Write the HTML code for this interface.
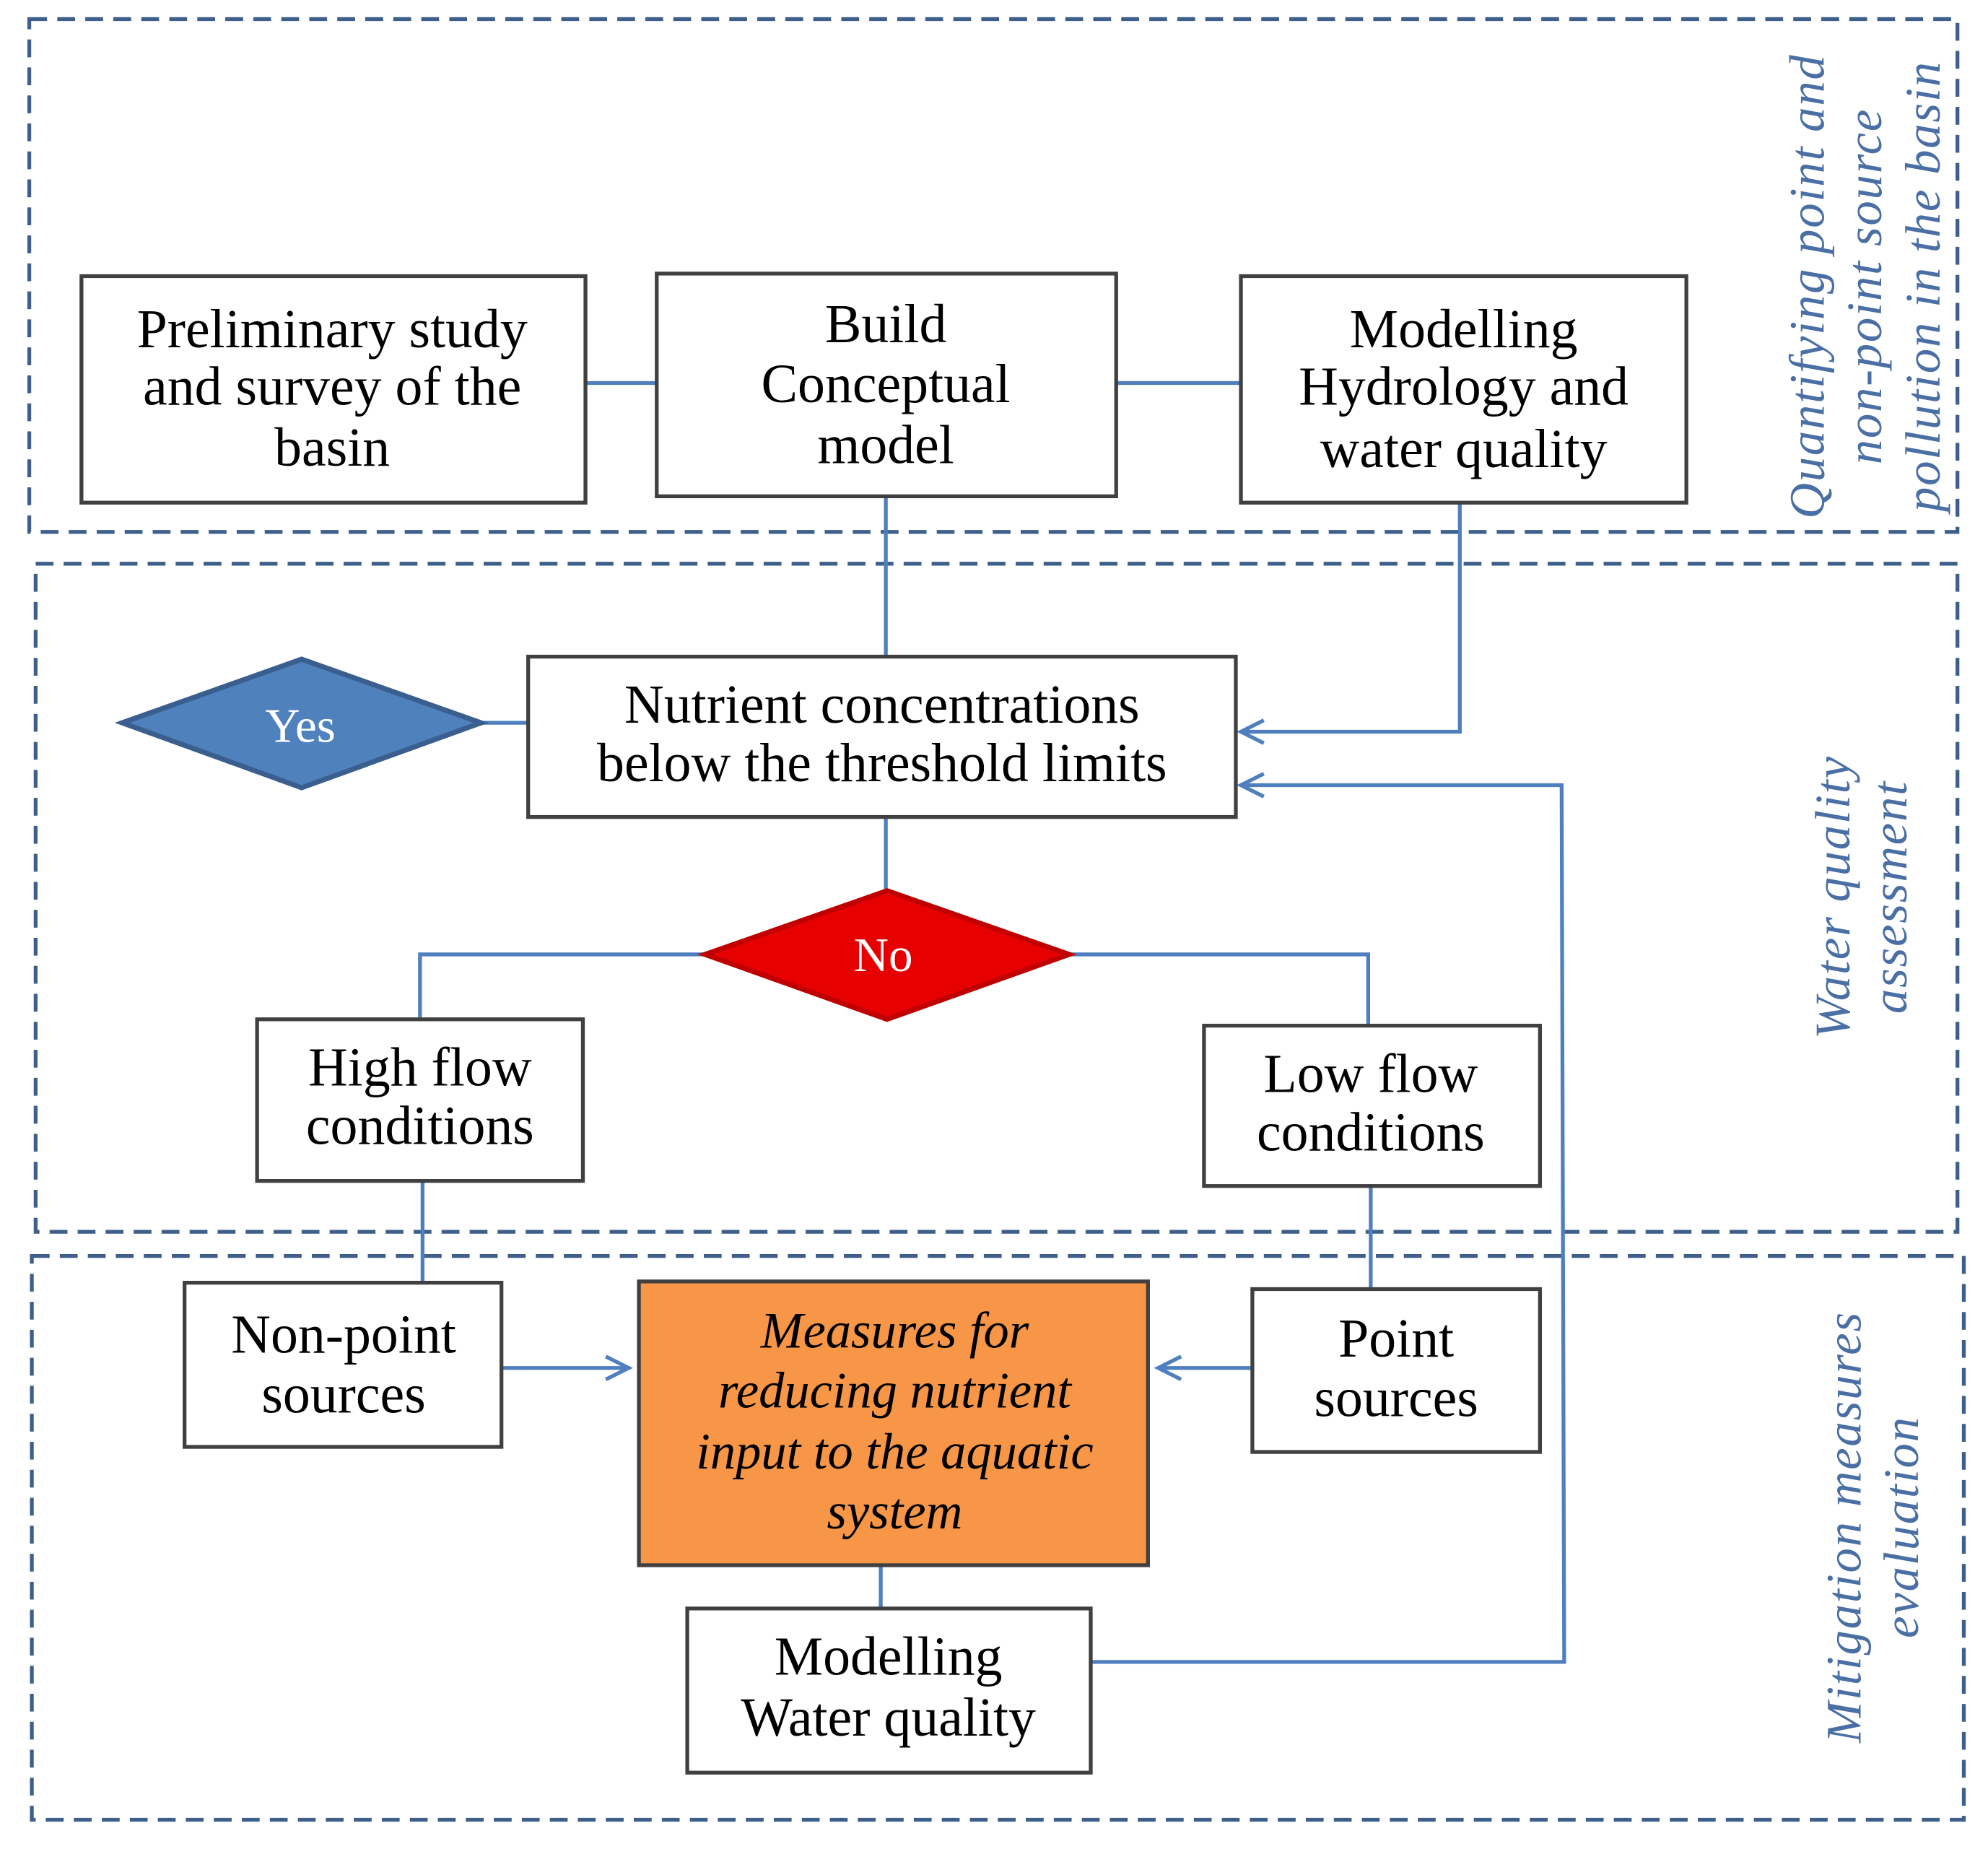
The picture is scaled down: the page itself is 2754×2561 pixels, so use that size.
<!DOCTYPE html>
<html><head><style>html,body{margin:0;padding:0;background:#fff}svg{display:block}</style></head><body>
<svg width="2754" height="2561" viewBox="0 0 1562 1453" preserveAspectRatio="none" xmlns="http://www.w3.org/2000/svg">
<defs><marker id="a" markerWidth="24" markerHeight="24" refX="20" refY="11" orient="auto" markerUnits="userSpaceOnUse"><path d="M2,2 L20,11 L2,20" fill="none" stroke="#4f7fbf" stroke-width="3"/></marker></defs>
<g fill="none" stroke="#3d5f8a" stroke-width="3" stroke-dasharray="14,8">
<rect x="23" y="15" width="1515" height="403"/>
<rect x="28" y="443" width="1510" height="525"/>
<rect x="25" y="987" width="1518" height="443"/>
</g>
<g fill="none" stroke="#4f7fbf" stroke-width="3">
<line x1="460" y1="301" x2="516" y2="301"/>
<line x1="877" y1="301" x2="975" y2="301"/>
<line x1="696" y1="390" x2="696" y2="516"/>
<polyline points="1147,395 1147,575 975,575" marker-end="url(#a)"/>
<polyline points="858,1306 1229,1306 1227,617 975,617" marker-end="url(#a)"/>
<line x1="378" y1="568" x2="415" y2="568"/>
<line x1="696" y1="642" x2="696" y2="700"/>
<polyline points="554,750 330,750 330,801"/>
<polyline points="840,750 1075,750 1075,830"/>
<line x1="332" y1="928" x2="332" y2="1008"/>
<line x1="1077" y1="932" x2="1077" y2="1013"/>
<line x1="394" y1="1075" x2="494" y2="1075" marker-end="url(#a)"/>
<line x1="984" y1="1075" x2="910" y2="1075" marker-end="url(#a)"/>
<line x1="692" y1="1230" x2="692" y2="1264"/>
</g>
<g fill="#fff" stroke="#404040" stroke-width="3">
<rect x="64" y="217" width="396" height="178"/>
<rect x="516" y="215" width="361" height="175"/>
<rect x="975" y="217" width="350" height="178"/>
<rect x="415" y="516" width="556" height="126"/>
<rect x="202" y="801" width="256" height="127"/>
<rect x="946" y="806" width="264" height="126"/>
<rect x="145" y="1008" width="249" height="129"/>
<rect x="984" y="1013" width="226" height="128"/>
<rect x="540" y="1264" width="317" height="129"/>
<rect x="502" y="1007" width="400" height="223" fill="#f79646"/>
</g>
<polygon points="96,568 237,518 378,568 237,619" fill="#4f81bd" stroke="#3a5f8f" stroke-width="4"/>
<polygon points="554,750 697,700 840,750 697,801" fill="#e60000" stroke="#c00000" stroke-width="4"/>
<g font-family="Liberation Serif, serif" font-size="43" fill="#000" text-anchor="middle">
<text x="261" y="273">Preliminary study</text><text x="261" y="318">and survey of the</text><text x="261" y="366">basin</text>
<text x="696" y="269">Build</text><text x="696" y="316">Conceptual</text><text x="696" y="364">model</text>
<text x="1150" y="273">Modelling</text><text x="1150" y="318">Hydrology and</text><text x="1150" y="367">water quality</text>
<text x="693" y="568">Nutrient concentrations</text><text x="693" y="614">below the threshold limits</text>
<text x="330" y="853">High flow</text><text x="330" y="899">conditions</text>
<text x="1077" y="858">Low flow</text><text x="1077" y="904">conditions</text>
<text x="270" y="1063">Non-point</text><text x="270" y="1110">sources</text>
<text x="1097" y="1066">Point</text><text x="1097" y="1113">sources</text>
<text x="698" y="1316">Modelling</text><text x="698" y="1364">Water quality</text>
<text x="236" y="583" fill="#fff" font-size="38">Yes</text>
<text x="694" y="763" fill="#fff" font-size="38">No</text>
<g font-style="italic" font-size="40"><text x="703" y="1059">Measures for</text><text x="703" y="1106">reducing nutrient</text><text x="703" y="1154">input to the aquatic</text><text x="703" y="1201">system</text></g>
</g>
<g font-family="Liberation Serif, serif" font-style="italic" font-size="39" letter-spacing="1" fill="#4a6fa5" text-anchor="middle">
<g transform="translate(1468,225) rotate(-90)"><text x="0" y="-35">Quantifying point and</text><text x="0" y="10">non-point source</text><text x="0" y="56">pollution in the basin</text></g>
<g transform="translate(1465,705) rotate(-90)"><text x="0" y="-12">Water quality</text><text x="0" y="33">assessment</text></g>
<g transform="translate(1472,1200) rotate(-90)"><text x="0" y="-10">Mitigation measures</text><text x="0" y="35">evaluation</text></g>
</g>
</svg>
</body></html>
